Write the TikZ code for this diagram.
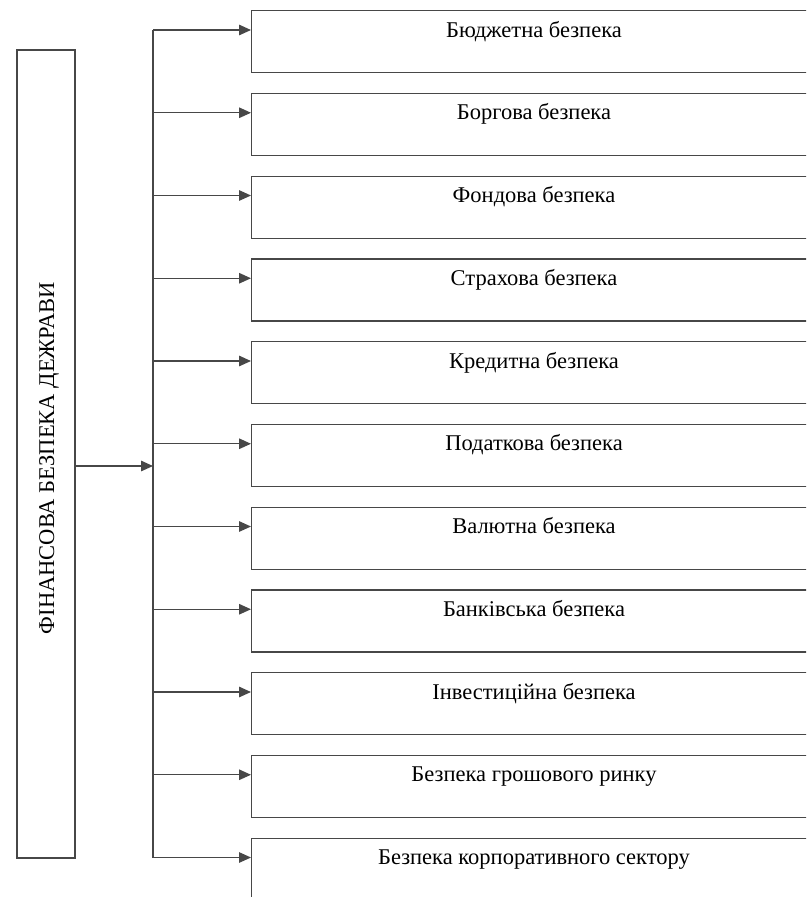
\documentclass[tikz,border=0pt]{standalone}
\usepackage{fontspec}
\setmainfont{Liberation Serif}
\usetikzlibrary{arrows.meta}
\begin{document}
\begin{tikzpicture}[x=1pt,y=-1pt,
  ln/.style={draw=black!72,line width=1.4pt},
  arr/.style={ln,-{Triangle[length=12pt,width=10.5pt]}},
  box/.style={ln,rectangle,anchor=north west,minimum width=600pt,minimum height=62pt,inner sep=0pt},
  lbl/.style={anchor=base,inner sep=0pt,text=black,font=\fontsize{22.5}{26}\selectfont},
  mainbox/.style={ln,rectangle,minimum width=58pt,minimum height=808pt,inner sep=0pt}]
\useasboundingbox (0,0) rectangle (806,897);
\clip (0,0) rectangle (806,897);
\node[mainbox] (main) at (46,454) {};
\node[rotate=90,inner sep=0pt,text=black,font=\fontsize{22.5}{26}\selectfont] (maintext) at (49,458) {ФІНАНСОВА БЕЗПЕКА ДЕЖРАВИ};
\foreach \i/\t in {0/Бюджетна безпека,1/Боргова безпека,2/Фондова безпека,3/Страхова безпека,4/Кредитна безпека,5/Податкова безпека,6/Валютна безпека,7/Банківська безпека,8/Інвестиційна безпека,9/Безпека грошового ринку,10/Безпека корпоративного сектору}{
  \pgfmathsetmacro{\top}{10+82.75*\i}
  \node[box] (b\i) at (251,\top) {};
  \node[lbl] (t\i) at (534,\top+27) {\t};
  \coordinate (j\i) at (153,\top+20);
  \draw[arr] (j\i) -- (j\i -| b\i.west);
}
\draw[ln] (j0) -- (j10);
\coordinate (hub) at (153,466);
\draw[arr] (main.east |- hub) -- (hub);
\end{tikzpicture}
\end{document}
